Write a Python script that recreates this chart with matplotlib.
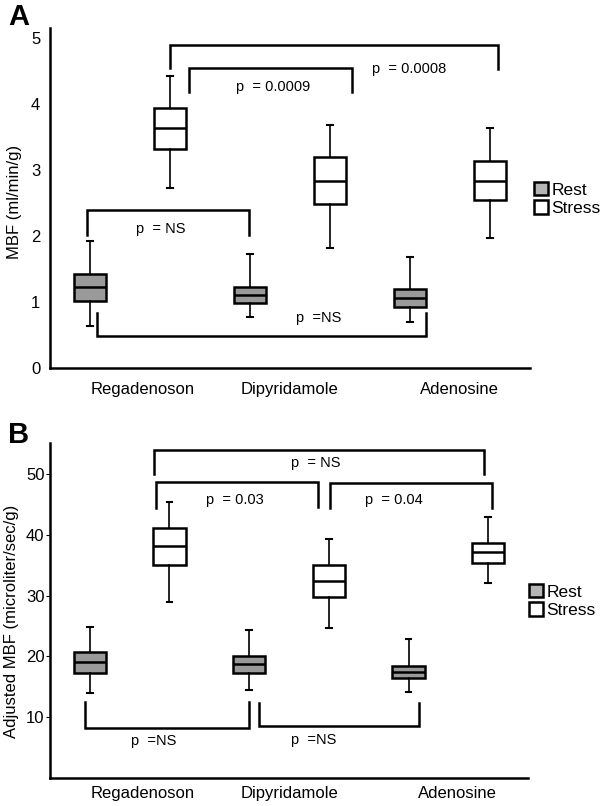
import matplotlib
matplotlib.use("Agg")
import matplotlib.pyplot as plt
from matplotlib.patches import Patch

plt.rcParams['font.family'] = ['Liberation Sans', 'DejaVu Sans']

categories = ["Regadenoson", "Dipyridamole", "Adenosine"]

# Panel A: MBF (ml/min/g)  [whislo, q1, med, q3, whishi]
a_rest = [
    [0.63, 1.02, 1.23, 1.43, 1.92],
    [0.77, 0.98, 1.11, 1.23, 1.72],
    [0.69, 0.93, 1.06, 1.19, 1.68],
]
a_stress = [
    [2.72, 3.32, 3.63, 3.94, 4.43],
    [1.82, 2.49, 2.84, 3.19, 3.68],
    [1.97, 2.54, 2.84, 3.14, 3.64],
]

# Panel B: Adjusted MBF (microliter/sec/g)
b_rest = [
    [13.9, 17.2, 19.0, 20.7, 24.9],
    [14.5, 17.2, 18.7, 20.1, 24.3],
    [14.2, 16.4, 17.5, 18.5, 22.8],
]
b_stress = [
    [28.9, 35.0, 38.2, 41.2, 45.4],
    [24.6, 29.8, 32.4, 35.0, 39.3],
    [32.1, 35.3, 37.1, 38.7, 42.9],
]

a_yticks = [0, 1, 2, 3, 4, 5]
b_yticks = [10, 20, 30, 40, 50]

# brackets: (x_left, x_right, y_bar, y_leg_left, y_leg_right, label, label_x, label_y)
a_brackets = [
    (1.25, 3.30, 4.90, 4.55, 4.53, "p  = 0.0008", 2.51, 4.53),
    (1.37, 2.385, 4.55, 4.18, 4.18, "p  = 0.0009", 1.66, 4.26),
    (0.733, 1.745, 2.40, 2.02, 2.02, "p  = NS", 1.04, 2.11),
    (0.793, 2.85, 0.48, 0.84, 0.84, "p  =NS", 2.04, 0.76),
]
b_brackets = [
    (1.15, 3.226, 53.9, 50.0, 50.0, "p  = NS", 2.01, 51.8),
    (1.164, 2.18, 48.7, 44.4, 44.6, "p  = 0.03", 1.48, 45.8),
    (2.258, 3.275, 48.6, 44.4, 44.4, "p  = 0.04", 2.48, 45.7),
    (0.719, 1.747, 8.27, 12.5, 12.5, "p  =NS", 1.006, 6.1),
    (1.809, 2.816, 8.55, 12.3, 12.4, "p  =NS", 2.01, 6.2),
]

REST_COLOR = "#9a9a9a"

fig = plt.figure(figsize=(6.0, 8.06), dpi=100)
W, H = 600.0, 806.0


def stats_list(arr, label):
    out = []
    for s in arr:
        out.append(dict(whislo=s[0], q1=s[1], med=s[2], q3=s[3], whishi=s[4],
                        fliers=[], label=label))
    return out


def draw_panel(rect, rest, stress, ylim, yticks, brackets, ylabel, ylabel_pos,
               letter, letter_pos, leg_anchor, tick_len, tick_pad, xpad):
    ax = fig.add_axes(rect)
    pos_rest = [1 - 0.25, 2 - 0.25, 3 - 0.25]
    pos_stress = [1 + 0.25, 2 + 0.25, 3 + 0.25]
    common = dict(widths=0.205, showfliers=False, patch_artist=True,
                  whiskerprops=dict(color='black', lw=1.2),
                  capprops=dict(color='black', lw=1.5),
                  medianprops=dict(color='black', lw=1.8))
    ax.bxp(stats_list(rest, "Rest"), positions=pos_rest,
           boxprops=dict(facecolor=REST_COLOR, edgecolor='black', lw=1.8),
           capwidths=0.035, **common)
    ax.bxp(stats_list(stress, "Stress"), positions=pos_stress,
           boxprops=dict(facecolor='white', edgecolor='black', lw=1.8),
           capwidths=0.035, **common)
    for (xl, xr, yb, yll, ylr, lab, lx, ly) in brackets:
        ax.plot([xl, xl, xr, xr], [yll, yb, yb, ylr], color='black', lw=1.8,
                solid_joinstyle='miter', clip_on=False)
        ax.text(lx, ly, lab, fontsize=10.5, ha='left', va='center')
    ax.set_xlim(0.5, 3.5)
    ax.set_ylim(*ylim)
    ax.set_yticks(yticks)
    ax.set_yticklabels([str(t) for t in yticks], fontsize=12)
    ax.set_xticks([1.08, 2.0, 3.06])
    ax.set_xticklabels(categories, fontsize=12)
    ax.tick_params(axis='x', length=0, pad=xpad)
    ax.tick_params(axis='y', length=tick_len, pad=tick_pad, width=0.8)
    for sp in ['top', 'right']:
        ax.spines[sp].set_visible(False)
    for sp in ['left', 'bottom']:
        ax.spines[sp].set_linewidth(1.8)
    fig.text(ylabel_pos[0], ylabel_pos[1], ylabel, rotation=90, fontsize=12,
             ha='center', va='center')
    fig.text(letter_pos[0], letter_pos[1], letter, fontsize=21, fontweight='bold',
             ha='left', va='baseline')
    handles = [Patch(facecolor='#b5b5b5', edgecolor='black', lw=1.8, label='Rest'),
               Patch(facecolor='white', edgecolor='black', lw=1.8, label='Stress')]
    fig.legend(handles=handles, loc='upper left', bbox_to_anchor=leg_anchor,
               frameon=False, fontsize=12.5, handlelength=0.8, handleheight=0.8,
               handletextpad=0.2, labelspacing=0.15, borderpad=0, borderaxespad=0)
    return ax


# Panel A: axis left x=50, right 530, y0 at 368, top at 28
draw_panel([50 / W, 1 - 368 / H, 480 / W, 340 / H], a_rest, a_stress,
           (0, 340 / 66.0), a_yticks, a_brackets, "MBF (ml/min/g)",
           (15 / W, 1 - 202 / H), "A", (8 / W, 1 - 25 / H),
           (534 / W, 1 - 182 / H), 0, 7, 10)

# Panel B: axis left x=50, right 528, y0 at 778, top at 443
draw_panel([50 / W, 1 - 778 / H, 478 / W, 335 / H], b_rest, b_stress,
           (0, 55.1), b_yticks, b_brackets, "Adjusted MBF (microliter/sec/g)",
           (12 / W, 1 - 621 / H), "B", (8 / W, 1 - 443 / H),
           (529 / W, 1 - 584 / H), 3, 1, 6)

fig.savefig("out.png", dpi=100)
